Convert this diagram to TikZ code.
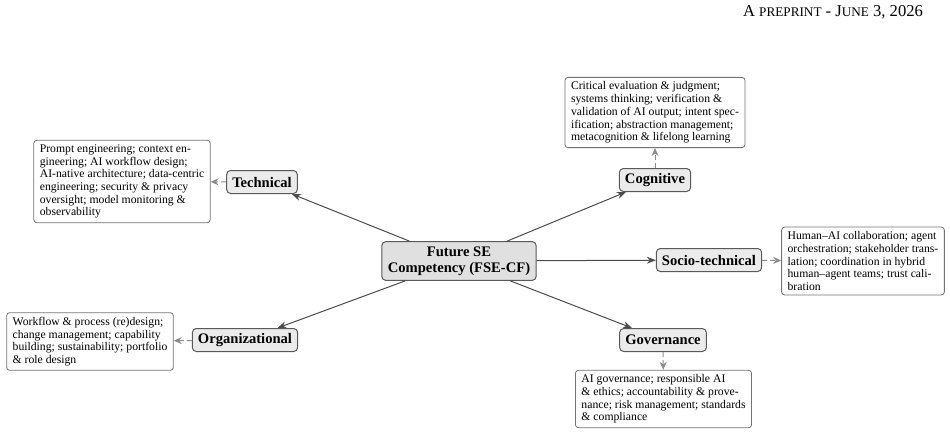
\documentclass[tikz,border=0pt]{standalone}
\usepackage{fontspec}
\setmainfont{Liberation Serif}
\usetikzlibrary{arrows.meta}

\newcommand{\descfont}{\fontsize{5.85}{6.35}\selectfont}
\newcommand{\areafont}{\fontsize{7.3}{8}\selectfont\bfseries}
\newcommand{\hdbig}{\fontsize{8.3}{9}\selectfont}
\newcommand{\hdsmall}{\fontsize{6.6}{7}\selectfont}

\begin{document}
\begin{tikzpicture}[x=0.5pt, y=-0.5pt,
                    core/.style={draw=black!65, fill=black!12, rounded corners=2pt, line width=0.5pt,
                                 font=\areafont, align=center, inner xsep=3pt, inner ysep=2.5pt},
                    area/.style={draw=black!65, fill=black!8, rounded corners=2pt, line width=0.5pt,
                                 font=\areafont, inner xsep=2.8pt, inner ysep=2pt, minimum height=11.5pt},
                    detail/.style={draw=black!55, fill=white, rounded corners=1.5pt, line width=0.4pt,
                                   font=\descfont, align=left, inner xsep=3pt, inner ysep=2.2pt},
                    link_main/.style={-{Stealth[length=4.5pt, width=3.5pt]}, draw=black!70, line width=0.5pt},
                    link_detail/.style={-{Stealth[length=4pt, width=3.5pt]}, draw=black!45, line width=0.5pt,
                                        dash pattern=on 2.5pt off 1.5pt}]

            \useasboundingbox (0,0) rectangle (950,436);

            \node[anchor=east] (header) at (930,12) {\hdbig A {\hdsmall PREPRINT} - J{\hdsmall UNE} 3, 2026};

            \node[core] (fse) at (459,261) {Future SE\\Competency (FSE-CF)};

            \node[area] (tech) at (262,182) {Technical};
            \node[area] (cog)  at (655,180) {Cognitive};
            \node[area] (soc)  at (709,260) {Socio-technical};
            \node[area] (org)  at (245,340) {Organizational};
            \node[area] (gov)  at (663,340) {Governance};

            \node[detail] (tech_d) at (122,181.5)
                {Prompt engineering; context en-\\gineering; AI workflow design;\\AI-native architecture; data-centric\\engineering; security \& privacy\\oversight; model monitoring \&\\observability};
            \node[detail] (cog_d) at (655,112.5)
                {Critical evaluation \& judgment;\\systems thinking; verification \&\\validation of AI output; intent spec-\\ification; abstraction management;\\metacognition \& lifelong learning};
            \node[detail] (soc_d) at (863,261)
                {Human--AI collaboration; agent\\orchestration; stakeholder trans-\\lation; coordination in hybrid\\human--agent teams; trust cali-\\bration};
            \node[detail] (org_d) at (90,341.5)
                {Workflow \& process (re)design;\\change management; capability\\building; sustainability; portfolio\\\& role design};
            \node[detail] (gov_d) at (663.5,399)
                {AI governance; responsible AI\\\& ethics; accountability \& prove-\\nance; risk management; standards\\\& compliance};

            \draw[link_main] (fse) -- (tech);
            \draw[link_main] (fse) -- (cog);
            \draw[link_main] (fse) -- (soc);
            \draw[link_main] (fse) -- (org);
            \draw[link_main] (fse) -- (gov);

            \draw[link_detail] (tech) -- (tech_d);
            \draw[link_detail] (cog)  -- (cog_d);
            \draw[link_detail] (soc)  -- (soc_d);
            \draw[link_detail] (org)  -- (org_d);
            \draw[link_detail] (gov)  -- (gov_d);
        \end{tikzpicture}
\end{document}
